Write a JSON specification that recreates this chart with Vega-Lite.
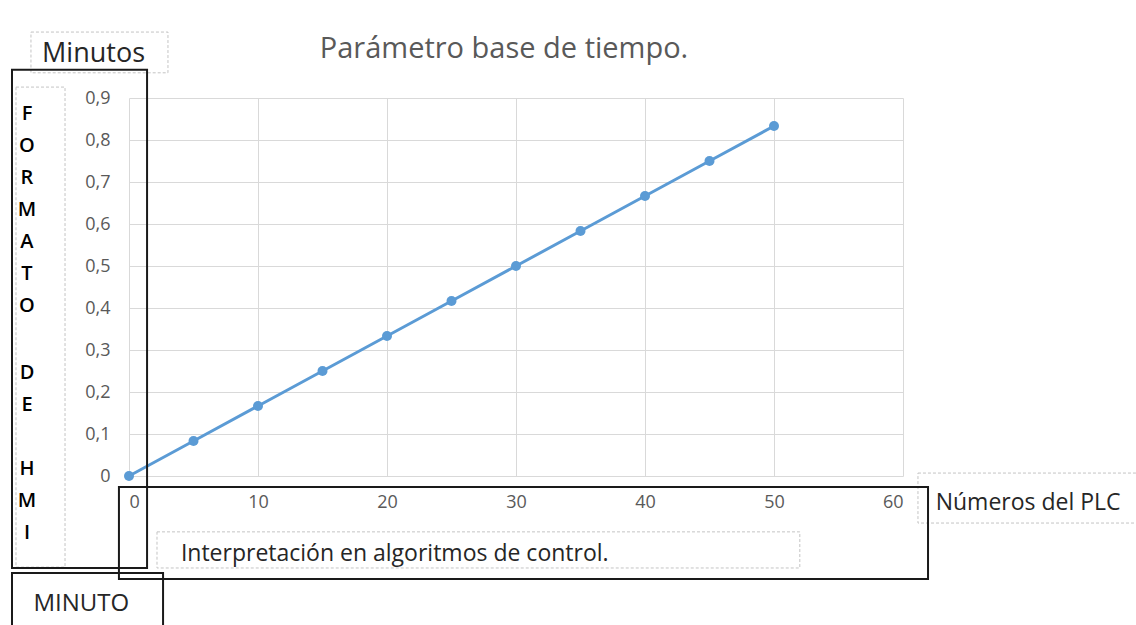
{
  "$schema": "https://vega.github.io/schema/vega-lite/v6.json",
  "autosize": "none",
  "width": 774,
  "height": 378,
  "padding": {"left": 129, "top": 98, "right": 233, "bottom": 149},
  "background": "white",
  "config": {
    "font": "Open Sans",
    "view": {"stroke": null},
    "axis": {"labelFont": "Open Sans", "labelColor": "#595959", "labelFontSize": 18, "gridColor": "#d9d9d9", "gridWidth": 1, "domain": false, "ticks": false, "tickSize": 0}
  },
  "title": {
    "text": "Parámetro base de tiempo.",
    "font": "Open Sans",
    "fontSize": 29,
    "fontWeight": "normal",
    "color": "#595959",
    "anchor": "middle",
    "frame": "group",
    "offset": -32,
    "dx": -12
  },
  "datasets": {
    "serie": [
      {"plc": 0, "min": 0},
      {"plc": 5, "min": 0.0833},
      {"plc": 10, "min": 0.1667},
      {"plc": 15, "min": 0.25},
      {"plc": 20, "min": 0.3333},
      {"plc": 25, "min": 0.4167},
      {"plc": 30, "min": 0.5},
      {"plc": 35, "min": 0.5833},
      {"plc": 40, "min": 0.6667},
      {"plc": 45, "min": 0.75},
      {"plc": 50, "min": 0.8333}
    ],
    "notas": [
      {"x": -2.75, "y": 1.005, "label": "Minutos", "size": 27},
      {"x": 69.7, "y": -0.064, "label": "Números del PLC", "size": 23},
      {"x": 20.6, "y": -0.186, "label": "Interpretación en algoritmos de control.", "size": 23},
      {"x": -3.7, "y": -0.305, "label": "MINUTO", "size": 24}
    ],
    "vertical": [
      {"x": -7.91, "y": 0.848, "label": "F|O|R|M|A|T|O"},
      {"x": -7.91, "y": 0.232, "label": "D|E"},
      {"x": -7.91, "y": 0.003, "label": "H|M|I"}
    ],
    "cajas": [
      {"x": -9.07, "x2": 1.4, "y": 0.967, "y2": -0.219},
      {"x": -0.78, "x2": 61.94, "y": -0.026, "y2": -0.245},
      {"x": -9.07, "x2": 2.64, "y": -0.231, "y2": -0.37}
    ],
    "marcos": [
      {"x": -7.6, "x2": 3.02, "y": 1.057, "y2": 0.96},
      {"x": 2.17, "x2": 52.0, "y": -0.133, "y2": -0.219},
      {"x": 61.16, "x2": 80, "y": 0.007, "y2": -0.112},
      {"x": -8.76, "x2": -4.96, "y": 0.926, "y2": -0.217}
    ]
  },
  "layer": [
    {
      "data": {"name": "serie"},
      "mark": {"type": "line", "color": "#5b9bd5", "strokeWidth": 3},
      "encoding": {
        "x": {"field": "plc", "type": "quantitative", "scale": {"domain": [0, 60]}, "axis": {"values": [0, 10, 20, 30, 40, 50, 60], "title": null, "labelPadding": 17}},
        "y": {"field": "min", "type": "quantitative", "scale": {"domain": [0, 0.9]}, "axis": {"values": [0, 0.1, 0.2, 0.3, 0.4, 0.5, 0.6, 0.7, 0.8, 0.9], "title": null, "labelPadding": 19, "labelExpr": "datum.value == 0 ? '0' : replace(format(datum.value, '.1f'), '.', ',')"}}
      }
    },
    {
      "data": {"name": "serie"},
      "mark": {"type": "point", "filled": true, "color": "#5b9bd5", "size": 100, "opacity": 1},
      "encoding": {
        "x": {"field": "plc", "type": "quantitative"},
        "y": {"field": "min", "type": "quantitative"}
      }
    },
    {
      "data": {"name": "marcos"},
      "mark": {"type": "rect", "fill": null, "stroke": "#c4c4c4", "strokeWidth": 1, "strokeDash": [3, 2], "clip": false},
      "encoding": {
        "x": {"field": "x", "type": "quantitative"},
        "x2": {"field": "x2"},
        "y": {"field": "y", "type": "quantitative"},
        "y2": {"field": "y2"}
      }
    },
    {
      "data": {"name": "cajas"},
      "mark": {"type": "rect", "fill": null, "stroke": "#1a1a1a", "strokeWidth": 2, "clip": false},
      "encoding": {
        "x": {"field": "x", "type": "quantitative"},
        "x2": {"field": "x2"},
        "y": {"field": "y", "type": "quantitative"},
        "y2": {"field": "y2"}
      }
    },
    {
      "data": {"name": "notas"},
      "mark": {"type": "text", "font": "Open Sans", "color": "#262626", "baseline": "middle", "align": "center"},
      "encoding": {
        "x": {"field": "x", "type": "quantitative"},
        "y": {"field": "y", "type": "quantitative"},
        "text": {"field": "label"},
        "size": {"field": "size", "type": "quantitative", "scale": null}
      }
    },
    {
      "data": {"name": "vertical"},
      "mark": {"type": "text", "font": "Open Sans", "fontSize": 20, "fontWeight": 600, "color": "#000000", "baseline": "alphabetic", "align": "center", "lineBreak": "|", "lineHeight": 32},
      "encoding": {
        "x": {"field": "x", "type": "quantitative"},
        "y": {"field": "y", "type": "quantitative"},
        "text": {"field": "label"}
      }
    }
  ]
}
